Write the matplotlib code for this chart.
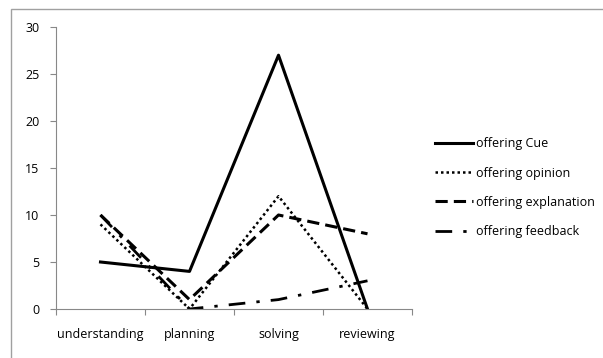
import matplotlib.pyplot as plt
from matplotlib.patches import Rectangle

stages = ['understanding', 'planning', 'solving', 'reviewing']
cue = [5, 4, 27, 0]
opinion = [9, 0, 12, 0]
explanation = [10, 1, 10, 8]
feedback = [10, 0, 1, 3]

plt.rcParams['font.family'] = ['Open Sans', 'DejaVu Sans']

fig = plt.figure(figsize=(6.03, 3.58), dpi=100)
fig.patches.append(Rectangle((11 / 603, -0.1), 1.0, 1 - 9 / 358 + 0.1,
                             transform=fig.transFigure, fill=False,
                             edgecolor='#a0a0a0', linewidth=1))
ax = fig.add_axes([56 / 603, 1 - 309 / 358, (412 - 56) / 603, (309 - 27) / 358])

x = range(len(stages))
ax.plot(x, cue, color='black', lw=2.2, ls='-', label='offering Cue')
ax.plot(x, opinion, color='black', lw=1.8, ls=(0, (1, 1.2)), label='offering opinion')
ax.plot(x, explanation, color='black', lw=2.2, ls=(0, (4, 2)), label='offering explanation')
ax.plot(x, feedback, color='black', lw=2.0, ls=(0, (6, 4, 1.2, 4)), label='offering feedback')

ax.set_xlim(-0.5, 3.5)
ax.set_ylim(0, 30)
ax.set_yticks([0, 5, 10, 15, 20, 25, 30])
ax.set_xticks([-0.5, 0.5, 1.5, 2.5, 3.5])
ax.set_xticklabels([])
ax.set_xticks(list(x), minor=True)
ax.set_xticklabels(stages, minor=True)
ax.tick_params(axis='x', which='minor', length=0, pad=14, labelsize=9)
ax.tick_params(axis='x', which='major', length=4, color='#888888', direction='out')
ax.tick_params(axis='y', length=4, color='#888888', labelsize=9, pad=8)
for s in ['top', 'right']:
    ax.spines[s].set_visible(False)
for s in ['left', 'bottom']:
    ax.spines[s].set_color('#888888')

ax.legend(loc='center left', bbox_to_anchor=(1.065, 0.43), frameon=False,
          fontsize=9, handlelength=3, handletextpad=0.3, labelspacing=1.3,
          borderpad=0, borderaxespad=0)

fig.savefig('out.png', dpi=100)
